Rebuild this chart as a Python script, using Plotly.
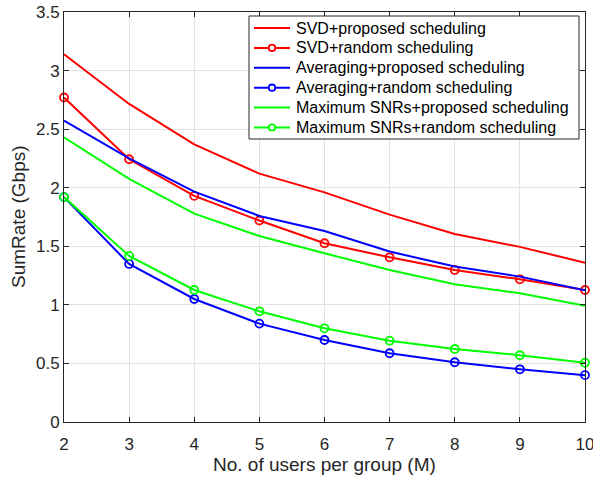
import plotly.graph_objects as go

users = [2, 3, 4, 5, 6, 7, 8, 9, 10]
svd_proposed = [3.14, 2.715, 2.37, 2.12, 1.96, 1.77, 1.605, 1.495, 1.36]
svd_random = [2.77, 2.243, 1.93, 1.72, 1.526, 1.406, 1.298, 1.218, 1.127]
avg_proposed = [2.573, 2.25, 1.967, 1.759, 1.63, 1.455, 1.327, 1.241, 1.125]
avg_random = [1.92, 1.349, 1.05, 0.84, 0.70, 0.587, 0.51, 0.45, 0.40]
snr_proposed = [2.43, 2.075, 1.779, 1.588, 1.44, 1.298, 1.176, 1.099, 0.993]
snr_random = [1.92, 1.418, 1.127, 0.945, 0.80, 0.694, 0.623, 0.57, 0.506]
y_ticks = [0, 0.5, 1, 1.5, 2, 2.5, 3, 3.5]
y_tick_labels = ["0", "0.5", "1", "1.5", "2", "2.5", "3", "3.5"]

series = [
    ("SVD+proposed scheduling", svd_proposed, "#ff0000", False),
    ("SVD+random scheduling", svd_random, "#ff0000", True),
    ("Averaging+proposed scheduling", avg_proposed, "#0000ff", False),
    ("Averaging+random scheduling", avg_random, "#0000ff", True),
    ("Maximum SNRs+proposed scheduling", snr_proposed, "#00ff00", False),
    ("Maximum SNRs+random scheduling", snr_random, "#00ff00", True),
]

FONT = "Liberation Sans, Arial, Helvetica, sans-serif"
TXT = "#262626"

# figure geometry (body margin removed via post_script)
W, H = 593, 479
ML, MR, MT, MB = 64, 8, 12, 57
PW = W - ML - MR
PH = H - MT - MB


def px(fx):
    return (fx - ML) / PW


def py(fy):
    return (H - MB - fy) / PH


fig = go.Figure()
for name, vals, color, mk in series:
    fig.add_trace(go.Scatter(
        x=users, y=vals, name=name,
        mode="lines+markers" if mk else "lines",
        line=dict(color=color, width=2),
        marker=dict(symbol="circle-open", size=8, color=color,
                    line=dict(width=1.8, color=color)),
        cliponaxis=False,
        showlegend=False,
    ))

axis_common = dict(
    showline=True, linecolor=TXT, linewidth=1, mirror="ticks",
    ticks="inside", ticklen=5, tickcolor=TXT,
    showgrid=True, gridcolor="#e3e3e3", gridwidth=1,
    zeroline=False, automargin=False, ticklabeloverflow="allow",
    tickfont=dict(family=FONT, size=17, color=TXT),
)

# custom legend (box, samples, labels)
shapes = []
annotations = []
bx0, bx1, by0, by1 = 249, 579, 16, 139
shapes.append(dict(type="rect", xref="paper", yref="paper",
                   x0=px(bx0), x1=px(bx1), y0=py(by1), y1=py(by0),
                   fillcolor="white", line=dict(color=TXT, width=1), layer="above"))
for i, (name, vals, color, mk) in enumerate(series):
    fy = 28 + 19.9 * i
    shapes.append(dict(type="line", xref="paper", yref="paper",
                       x0=px(254), x1=px(290), y0=py(fy), y1=py(fy),
                       line=dict(color=color, width=2), layer="above"))
    if mk:
        shapes.append(dict(type="circle", xref="paper", yref="paper",
                           xsizemode="pixel", ysizemode="pixel",
                           xanchor=px(272), yanchor=py(fy),
                           x0=-3.2, x1=3.2, y0=-3.2, y1=3.2,
                           fillcolor="white", line=dict(color=color, width=1.8),
                           layer="above"))
    annotations.append(dict(text=name, xref="paper", yref="paper",
                            x=px(294), y=py(fy), xanchor="left", yanchor="middle",
                            showarrow=False,
                            font=dict(family=FONT, size=16, color="#000000")))

annotations.append(dict(text="No. of users per group (M)", xref="paper", yref="paper",
                        x=0.5, y=0, yshift=-42, xanchor="center", yanchor="middle",
                        showarrow=False, font=dict(family=FONT, size=19, color=TXT)))
annotations.append(dict(text="SumRate (Gbps)", xref="paper", yref="paper",
                        x=0, y=0.5, xshift=-46, xanchor="center", yanchor="middle",
                        textangle=-90, showarrow=False,
                        font=dict(family=FONT, size=19, color=TXT)))

fig.update_layout(
    width=W, height=H,
    margin=dict(l=ML, r=MR, t=MT, b=MB),
    paper_bgcolor="white", plot_bgcolor="white",
    font=dict(family=FONT, color=TXT),
    xaxis=dict(range=[2, 10], tickvals=users, ticktext=[str(u) for u in users],
               ticklabelstandoff=7, **axis_common),
    yaxis=dict(range=[0, 3.5], tickvals=y_ticks, ticktext=y_tick_labels,
               **axis_common),
    shapes=shapes,
    annotations=annotations,
    showlegend=False,
    hovermode=False,
)

fig.write_html(
    "out.html",
    config={"displayModeBar": False, "staticPlot": True},
    post_script="document.body.style.margin='0';document.body.style.overflow='hidden';",
)
